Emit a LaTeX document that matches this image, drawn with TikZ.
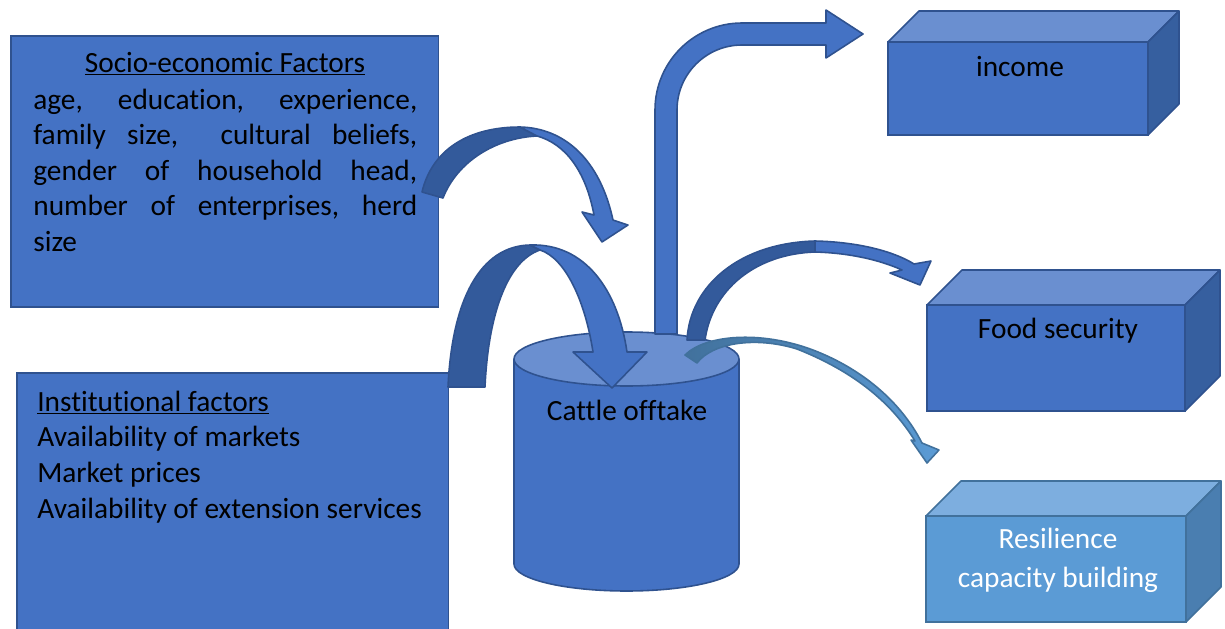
\documentclass[tikz,border=0pt]{standalone}
\usepackage{fontspec}
\setmainfont[Ligatures=NoCommon]{Carlito}
\usetikzlibrary{calc,positioning}

\definecolor{mainblue}{HTML}{4472C4}
\definecolor{edgeblue}{HTML}{2F528F}
\definecolor{backblue}{HTML}{335A9B}
\definecolor{topblue}{HTML}{6A8FD0}
\definecolor{sideblue}{HTML}{365F9F}
\definecolor{paleblue}{HTML}{5B9BD5}
\definecolor{paletop}{HTML}{7DAEDF}
\definecolor{paleside}{HTML}{4A7EB0}
\definecolor{paleedge}{HTML}{41719C}

\tikzset{
  flatbox/.style={draw=edgeblue, fill=mainblue, line width=0.9pt, inner sep=0pt, anchor=north west},
  bandback/.style={fill=backblue, draw=edgeblue, line width=0.9pt, line join=round},
  bandfront/.style={fill=mainblue, draw=edgeblue, line width=0.9pt, line join=round},
  boxtext/.style={font=\fontsize{16.7}{20}\selectfont, inner sep=0pt},
}

\begin{document}
\begin{tikzpicture}[x=0.02cm, y=-0.02cm]
\useasboundingbox (0,0) rectangle (1225,629);

% left boxes
\node[flatbox, minimum width=8.56cm, minimum height=5.42cm] (socio) at (10,35) {};
\node[flatbox, minimum width=8.64cm, minimum height=5.5cm] (inst) at (16,372) {};

\node[boxtext, anchor=base] (sociohead) at (225,72) {\underline{Socio-economic Factors}};
\foreach \txt [count=\i] in {{age,\hfill education,\hfill experience,},
                             {family\hfill size,\hfill\hfill cultural\hfill beliefs,},
                             {gender\hfill of\hfill household\hfill head,},
                             {number\hfill of\hfill enterprises,\hfill herd},
                             {size\hfill}}
  \node[boxtext, anchor=base west] (socio\i) at (33,109+35.5*\i-35.5) {\hbox to 7.68cm{\txt}};

\node[boxtext, anchor=base west] (insthead) at (37,411) {\underline{Institutional factors}};
\foreach \txt [count=\i] in {Availability of markets, Market prices, Availability of extension services}
  \node[boxtext, anchor=base west] (inst\i) at (37,411+35.7*\i) {\txt};

% cylinder
\draw[draw=edgeblue, fill=mainblue, line width=0.9pt] (514,359) -- (514,564)
  arc[start angle=180, end angle=0, x radius=112.5, y radius=27] -- (739,359);
\draw[draw=edgeblue, fill=topblue, line width=0.9pt] (626.5,359) ellipse[x radius=112.5, y radius=27];
\node[boxtext, anchor=base] (cattle) at (627,420) {Cattle offtake};

% 3d boxes on the right
\foreach \xa/\ya/\xb/\yb/\d/\cf/\ct/\cs/\ce in {888/42/1148/135/31/mainblue/topblue/sideblue/edgeblue,
    927/305/1185/411/35/mainblue/topblue/sideblue/edgeblue,
    926/516/1186/622/35/paleblue/paletop/paleside/paleedge}
{
  \draw[draw=\ce, fill=\cf, line width=0.9pt] (\xa,\ya) rectangle (\xb,\yb);
  \draw[draw=\ce, fill=\ct, line width=0.9pt, line join=round] (\xa,\ya) -- ++(\d,-\d) -- (\xb+\d,\ya-\d) -- (\xb,\ya) -- cycle;
  \draw[draw=\ce, fill=\cs, line width=0.9pt, line join=round] (\xb,\ya) -- (\xb+\d,\ya-\d) -- (\xb+\d,\yb-\d) -- (\xb,\yb) -- cycle;
}
\node[boxtext, anchor=base] (income) at (1020,76) {income};
\node[boxtext, anchor=base] (food) at (1058,338) {Food security};
\node[boxtext, anchor=base, text=white] (resil) at (1058,548) {Resilience};
\node[boxtext, anchor=base, text=white] (capac) at (1058,587) {capacity building};

% institutional factors -> cylinder
\draw[bandback] (448,387) .. controls (452,300) and (480,246) .. (530,245) -- (540,250)
  .. controls (505,262) and (488,320) .. (485,387) -- cycle;
\draw[bandfront] (530,245) .. controls (585,243) and (618,290) .. (627,352) -- (647,352)
  -- (612,388) -- (573,352) -- (593,352) .. controls (585,300) and (565,258) .. (540,250) -- cycle;

% socio-economic factors -> cylinder
\draw[bandback] (422,192) .. controls (432,150) and (468,127) .. (520,127) -- (537,136)
  .. controls (495,138) and (457,162) .. (443,198) -- cycle;
\draw[bandfront] (520,127) .. controls (565,128) and (600,160) .. (613,220) -- (628,225)
  -- (602,242) -- (582,212) -- (594,215) .. controls (586,172) and (566,144) .. (537,136) -- cycle;

% cylinder -> income
\draw[bandfront] (655,334) -- (655,110) arc[start angle=180, end angle=270, radius=87]
  -- (826,23) -- (826,10) -- (863,34) -- (826,58) -- (826,45) -- (742,45)
  arc[start angle=270, end angle=180, radius=65] -- (677,334) -- cycle;

% cylinder -> food security
\draw[bandback] (687,340) .. controls (690,285) and (740,243) .. (815,241) -- (815,252)
  .. controls (755,254) and (712,290) .. (705,340) -- cycle;
\draw[bandfront] (815,241) .. controls (860,242) and (895,252) .. (914,264) -- (931,261)
  -- (920,285) -- (890,273) -- (902,270) .. controls (880,260) and (850,253) .. (815,252) -- cycle;

% cylinder -> resilience
\shadedraw[left color=paleedge, right color=paleblue, draw=paleedge, line width=0.9pt, line join=round]
  (685,355) .. controls (705,335) and (760,330) .. (813,350)
  .. controls (860,368) and (900,400) .. (922,443) -- (939,450) -- (927,463) -- (911,440) -- (915,441)
  .. controls (890,400) and (850,370) .. (797,349) .. controls (755,336) and (712,343) .. (697,363) -- cycle;
\end{tikzpicture}
\end{document}
